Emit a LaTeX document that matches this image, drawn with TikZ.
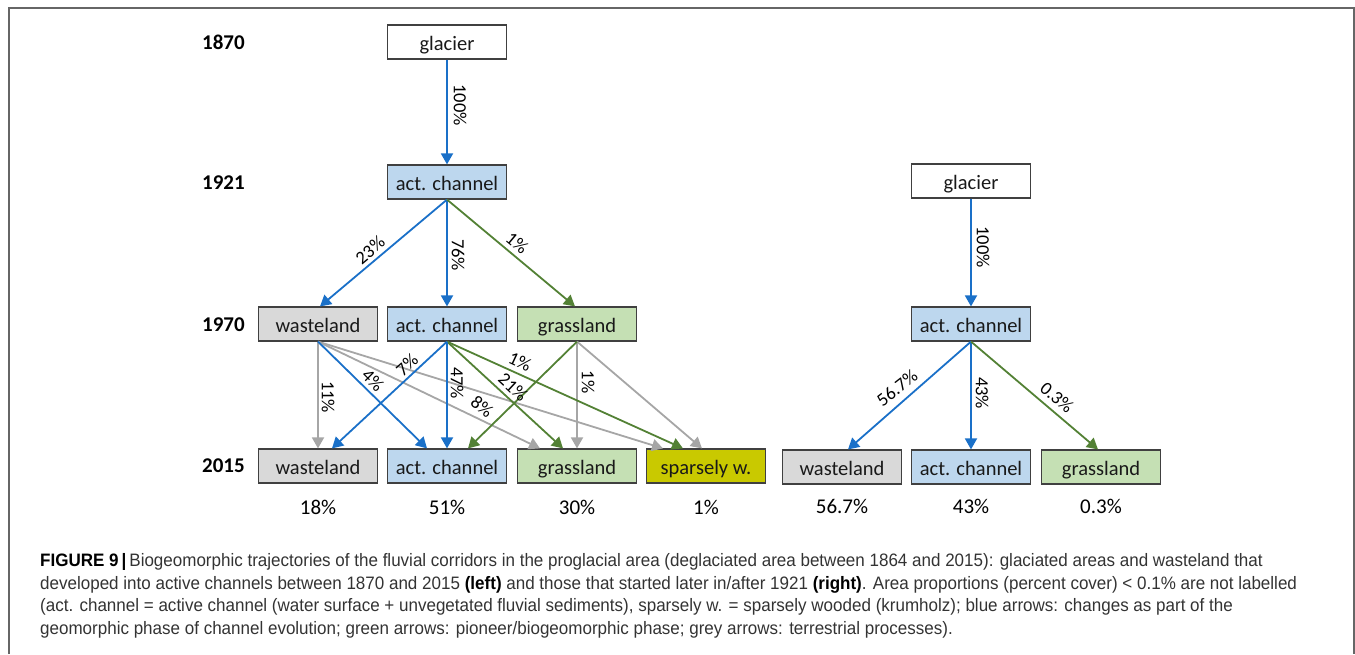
\documentclass[tikz,border=0pt]{standalone}
\usepackage{fontspec}
\setmainfont{Carlito}
\newfontfamily\capfont[FakeStretch=0.945]{Liberation Sans}
\usetikzlibrary{arrows.meta}
\definecolor{arrblue}{HTML}{1A70C8}
\definecolor{arrgreen}{HTML}{538135}
\definecolor{arrgrey}{HTML}{A6A6A6}
\definecolor{wastefill}{HTML}{D9D9D9}
\definecolor{chanfill}{HTML}{BDD7EE}
\definecolor{grassfill}{HTML}{C5E0B4}
\definecolor{woodfill}{HTML}{C9C900}
\definecolor{boxline}{HTML}{404040}
\definecolor{captext}{HTML}{333333}
\tikzset{
	box/.style={draw=boxline, line width=1.2pt, minimum width=119pt, minimum height=34pt, inner sep=0pt, text height=20pt, text depth=4pt, text=black!90, font=\fontsize{20.5}{24}\selectfont},
	ice/.style={box, fill=white},
	waste/.style={box, fill=wastefill},
	chan/.style={box, fill=chanfill},
	grass/.style={box, fill=grassfill},
	wood/.style={box, fill=woodfill},
	year/.style={anchor=west, inner sep=0pt, font=\fontsize{21}{24}\selectfont\bfseries},
	pct/.style={inner sep=0pt, font=\fontsize{21}{24}\selectfont},
	lbl/.style={inner sep=0pt, font=\fontsize{18.5}{20}\selectfont},
	tip/.style={-{Triangle[width=12pt,length=11pt]}, line width=1.8pt},
	blu/.style={tip, draw=arrblue, fill=arrblue},
	grn/.style={tip, draw=arrgreen, fill=arrgreen},
	gry/.style={tip, draw=arrgrey, fill=arrgrey},
	capline/.style={anchor=west, inner sep=0pt, text=captext, font=\capfont\fontsize{18}{20}\selectfont}
}
\begin{document}
\begin{tikzpicture}[x=1pt, y=-1pt]
	\useasboundingbox (0,0) rectangle (1355,654);
	\draw[boxline!80, line width=1.5pt] (9,654) -- (9,8) -- (1354,8) -- (1354,654);

	\node[year] (y1870) at (202,42) {1870};
	\node[year] (y1921) at (202,183) {1921};
	\node[year] (y1970) at (202,325) {1970};
	\node[year] (y2015) at (202,466) {2015};

	\node[ice] (g70) at (447,42) {glacier};
	\node[chan] (a21) at (447,182) {act. channel};
	\node[waste] (w70) at (318,324) {wasteland};
	\node[chan] (a70) at (447,324) {act. channel};
	\node[grass] (gr70) at (577,324) {grassland};
	\node[waste] (w15) at (318,466) {wasteland};
	\node[chan] (a15) at (447,466) {act. channel};
	\node[grass] (gr15) at (577,466) {grassland};
	\node[wood] (s15) at (706,466) {sparsely w.};

	\node[ice] (rg21) at (971,181) {glacier};
	\node[chan] (ra70) at (971,324) {act. channel};
	\node[waste] (rw15) at (842,467) {wasteland};
	\node[chan] (ra15) at (971,467) {act. channel};
	\node[grass] (rgr15) at (1101,467) {grassland};

	\node[pct] (p1) at (318,507) {18\%};
	\node[pct] (p2) at (447,507) {51\%};
	\node[pct] (p3) at (577,507) {30\%};
	\node[pct] (p4) at (706,507) {1\%};
	\node[pct] (p5) at (842,506) {56.7\%};
	\node[pct] (p6) at (971,506) {43\%};
	\node[pct] (p7) at (1101,506) {0.3\%};

	\draw[blu] (g70.south) to (a21.north);
	\draw[blu] (a21.south) to ([xshift=2pt]w70.north);
	\draw[blu] (a21.south) to (a70.north);
	\draw[grn] (a21.south) to ([xshift=-2pt]gr70.north);

	\draw[gry] (w70.south) to (w15.north);
	\draw[gry] (w70.south) to ([xshift=-37pt]gr15.north);
	\draw[gry] (w70.south) to ([xshift=-43pt]s15.north);
	\draw[gry] (gr70.south) to (gr15.north);
	\draw[gry] (gr70.south) to ([xshift=-4pt]s15.north);
	\draw[grn] (gr70.south) to ([xshift=21pt]a15.north);
	\draw[grn] (a70.south) to ([xshift=-14pt]gr15.north);
	\draw[grn] (a70.south) to ([xshift=-23pt]s15.north);
	\draw[blu] (w70.south) to ([xshift=-20pt]a15.north);
	\draw[blu] (a70.south) to ([xshift=14pt]w15.north);
	\draw[blu] (a70.south) to (a15.north);

	\draw[blu] (rg21.south) to (ra70.north);
	\draw[blu] (ra70.south) to ([xshift=6pt]rw15.north);
	\draw[blu] (ra70.south) to (ra15.north);
	\draw[grn] (ra70.south) to ([xshift=-3pt]rgr15.north);

	\node[lbl, rotate=-90] (l1) at (460,105) {100\%};
	\node[lbl, rotate=40] (l2) at (370,250) {23\%};
	\node[lbl, rotate=-90] (l3) at (458,255) {76\%};
	\node[lbl, rotate=-40] (l4) at (517,243) {1\%};
	\node[lbl, rotate=-90] (l5) at (328,397) {11\%};
	\node[lbl, rotate=-45] (l6) at (373,380) {4\%};
	\node[lbl, rotate=42] (l7) at (407,365) {7\%};
	\node[lbl, rotate=-90] (l8) at (457,383) {47\%};
	\node[lbl, rotate=-43] (l9) at (513,387) {21\%};
	\node[lbl, rotate=-38] (l10) at (482,407) {8\%};
	\node[lbl, rotate=-25] (l11) at (520,362) {1\%};
	\node[lbl, rotate=-90] (l12) at (588,382) {1\%};
	\node[lbl, rotate=-90] (l13) at (983,247) {100\%};
	\node[lbl, rotate=38] (l14) at (897,388) {56.7\%};
	\node[lbl, rotate=-90] (l15) at (982,393) {43\%};
	\node[lbl, rotate=-40] (l16) at (1057,397) {0.3\%};

	\node[capline] (c1) at (40,562) {{\color{black}\bfseries FIGURE 9\,|\,}Biogeomorphic trajectories of the fluvial corridors in the proglacial area (deglaciated area between 1864 and 2015): glaciated areas and wasteland that};
	\node[capline] (c2) at (40,585) {developed into active channels between 1870 and 2015 {\color{black}\bfseries (left)} and those that started later in/after 1921 {\color{black}\bfseries (right)}. Area proportions (percent cover) < 0.1\% are not labelled};
	\node[capline] (c3) at (40,607) {(act. channel = active channel (water surface + unvegetated fluvial sediments), sparsely w. = sparsely wooded (krumholz); blue arrows: changes as part of the};
	\node[capline] (c4) at (40,630) {geomorphic phase of channel evolution; green arrows: pioneer/biogeomorphic phase; grey arrows: terrestrial processes).};
\end{tikzpicture}
\end{document}
